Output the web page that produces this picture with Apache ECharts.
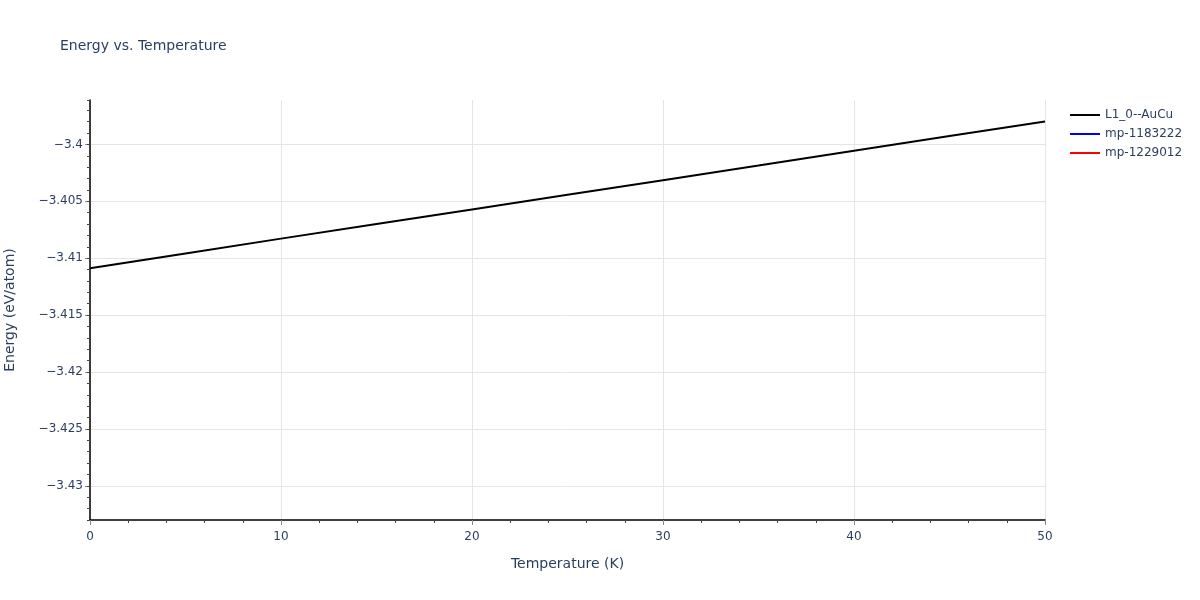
<!DOCTYPE html>
<html>
<head>
<meta charset="utf-8">
<script src="https://cdn.jsdelivr.net/npm/echarts@6/dist/echarts.min.js"></script>
<style>
  html, body { margin: 0; padding: 0; background: #fff; }
  #chart { width: 1200px; height: 600px; }
</style>
</head>
<body>
<div id="chart"></div>
<script>
// data
var temps = [0, 5, 10, 15, 20, 25, 30, 35, 40, 45, 50];
var energyL10 = [-3.41088, -3.40958, -3.40828, -3.40700, -3.40572, -3.40443, -3.40315, -3.40186, -3.40056, -3.39927, -3.39798];
var energyMp1183222 = [];
var energyMp1229012 = [];
var yTicks = [-3.43, -3.425, -3.42, -3.415, -3.41, -3.405, -3.4];

var yMin = -3.433, yMax = -3.3961;
var textColor = '#2a3f5f';
var font = 'DejaVu Sans, Verdana, sans-serif';

function pairs(xs, ys) {
    return ys.map(function (v, i) { return [xs[i], v]; });
}

var chart = echarts.init(document.getElementById('chart'));
chart.setOption({
    animation: false,
    title: {
        text: 'Energy vs. Temperature',
        left: 55,
        top: 34,
        textStyle: { color: textColor, fontSize: 14, fontWeight: 'normal', fontFamily: font }
    },
    legend: {
        orient: 'vertical',
        left: 1065,
        top: 104,
        itemGap: 7,
        itemWidth: 30,
        itemHeight: 2,
        icon: 'rect',
        textStyle: { color: textColor, fontSize: 12, fontFamily: font },
        data: ['L1_0--AuCu', 'mp-1183222', 'mp-1229012']
    },
    grid: { left: 90, right: 155, top: 100, bottom: 80, outerBoundsMode: 'none' },
    xAxis: {
        type: 'value',
        min: 0,
        max: 50,
        interval: 10,
        name: 'Temperature (K)',
        nameLocation: 'middle',
        nameGap: 37,
        nameTextStyle: { color: textColor, fontSize: 14, fontFamily: font },
        axisLine: { show: true, lineStyle: { color: '#000', width: 1.5 } },
        axisTick: { show: true, length: 5, lineStyle: { color: '#888' } },
        minorTick: { show: true, splitNumber: 5, length: 3, lineStyle: { color: '#444' } },
        axisLabel: { color: textColor, fontSize: 12, margin: 11, fontFamily: font },
        splitLine: { show: true, lineStyle: { color: '#e5e5e5', width: 1 } }
    },
    yAxis: [{
        type: 'value',
        min: yMin,
        max: yMax,
        name: 'Energy (eV/atom)',
        nameLocation: 'middle',
        nameGap: 73,
        nameTextStyle: { color: textColor, fontSize: 14, fontFamily: font },
        axisLine: { show: true, lineStyle: { color: '#000', width: 1.5 } },
        axisTick: { show: true, length: 5, customValues: yTicks, lineStyle: { color: '#888' } },
        axisLabel: {
            color: textColor, fontSize: 12, margin: 7, fontFamily: font,
            customValues: yTicks,
            formatter: function (v) { return '\u2212' + String(Math.abs(+v.toFixed(3))); }
        },
        splitLine: { show: true, lineStyle: { color: '#e5e5e5', width: 1 } }
    }, {
        type: 'value',
        min: yMin,
        max: yMax,
        interval: 0.001,
        position: 'left',
        axisLine: { show: false },
        axisTick: { show: true, length: 3, lineStyle: { color: '#444' } },
        axisLabel: { show: false },
        splitLine: { show: false }
    }],
    series: [{
        name: 'L1_0--AuCu',
        type: 'line',
        data: pairs(temps, energyL10),
        showSymbol: false,
        color: '#000000',
        lineStyle: { width: 2 }
    }, {
        name: 'mp-1183222',
        type: 'line',
        data: pairs(temps, energyMp1183222),
        showSymbol: false,
        color: '#0000ff',
        lineStyle: { width: 2 }
    }, {
        name: 'mp-1229012',
        type: 'line',
        data: pairs(temps, energyMp1229012),
        showSymbol: false,
        color: '#ff0000',
        lineStyle: { width: 2 }
    }]
});
</script>
</body>
</html>
